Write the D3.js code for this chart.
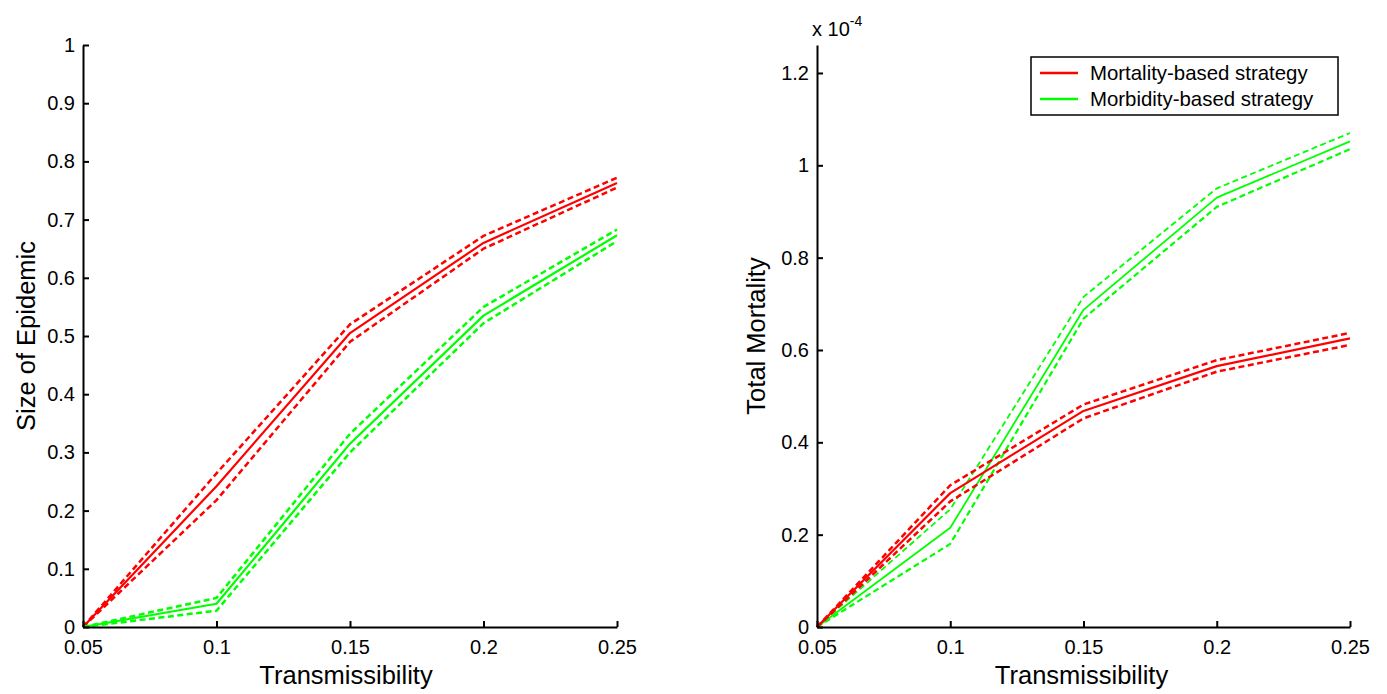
<!DOCTYPE html>
<html><head><meta charset="utf-8">
<script src="https://cdn.jsdelivr.net/npm/d3@7"></script>
<style>body{margin:0;background:#fff;} text{font-family:"Liberation Sans",Arial,sans-serif;fill:#000;}</style>
</head><body><svg id="c" width="1387" height="694"></svg>
<script>
const xVals = [0.05, 0.1, 0.15, 0.2, 0.25];
const xTicks = [0.05, 0.1, 0.15, 0.2, 0.25];
const xTickLabels = ["0.05", "0.1", "0.15", "0.2", "0.25"];
// Left: size of epidemic
const redEpi   = [0, 0.242, 0.505, 0.660, 0.763];
const redEpiUp = [0, 0.264, 0.520, 0.672, 0.772];
const redEpiLo = [0, 0.218, 0.490, 0.650, 0.755];
const greenEpi   = [0, 0.040, 0.315, 0.535, 0.673];
const greenEpiUp = [0, 0.050, 0.332, 0.550, 0.683];
const greenEpiLo = [0, 0.028, 0.300, 0.522, 0.663];
const leftYTicks = [0, 0.1, 0.2, 0.3, 0.4, 0.5, 0.6, 0.7, 0.8, 0.9, 1];
const leftYTickLabels = ["0","0.1","0.2","0.3","0.4","0.5","0.6","0.7","0.8","0.9","1"];
// Right: total mortality (x 10^-4)
const redMort   = [0, 0.290, 0.468, 0.565, 0.625];
const redMortUp = [0, 0.307, 0.482, 0.578, 0.637];
const redMortLo = [0, 0.272, 0.452, 0.553, 0.611];
const greenMort   = [0, 0.215, 0.687, 0.930, 1.052];
const greenMortUp = [0, 0.255, 0.715, 0.950, 1.070];
const greenMortLo = [0, 0.180, 0.668, 0.910, 1.035];
const rightYTicks = [0, 0.2, 0.4, 0.6, 0.8, 1, 1.2];
const rightYTickLabels = ["0","0.2","0.4","0.6","0.8","1","1.2"];
const legendLabels = ["Mortality-based strategy", "Morbidity-based strategy"];
const RED = "#ff0000", GREEN = "#00ff00";

const svg = d3.select("#c");

function panel(opts){
  const g = svg.append("g");
  const x = d3.scaleLinear().domain([0.05, 0.25]).range([opts.x0, opts.x1]);
  const y = d3.scaleLinear().domain([0, opts.ymax]).range([627, 45]);
  const line = d3.line().x((d,i)=>x(xVals[i])).y(d=>y(d));
  opts.series.forEach(s=>{
    g.append("path").attr("d", line(s.vals)).attr("fill","none")
      .attr("stroke", s.color).attr("stroke-width", s.w)
      .attr("stroke-dasharray", s.dash ? "6,3.5" : null)
      .attr("stroke-linejoin","round");
  });
  const xa = d3.axisBottom(x).tickValues(xTicks).tickFormat((d,i)=>xTickLabels[i]).tickSizeInner(-6).tickSizeOuter(0).tickPadding(13);
  const gx = g.append("g").attr("transform","translate(0,627)").call(xa);
  gx.select(".domain").attr("stroke","#000").attr("stroke-width",2);
  gx.selectAll(".tick line").attr("stroke","#000").attr("stroke-width",2);
  gx.selectAll(".tick text").attr("font-size",20).attr("font-family","Liberation Sans, Arial, sans-serif");
  const ya = d3.axisLeft(y).tickValues(opts.yTicks).tickFormat((d,i)=>opts.yLabels[i]).tickSizeInner(-6).tickSizeOuter(0).tickPadding(8);
  const gy = g.append("g").attr("transform",`translate(${opts.x0},0)`).call(ya);
  gy.select(".domain").attr("stroke","#000").attr("stroke-width",2);
  gy.selectAll(".tick line").attr("stroke","#000").attr("stroke-width",2);
  gy.selectAll(".tick text").attr("font-size",20).attr("font-family","Liberation Sans, Arial, sans-serif");
  g.append("text").attr("x",(opts.x0+opts.x1)/2 + opts.xlOff).attr("y",684).attr("text-anchor","middle")
    .attr("font-size",25.5).text("Transmissibility");
  g.append("text").attr("transform",`translate(${opts.ylx},336) rotate(-90)`).attr("text-anchor","middle")
    .attr("font-size",25.5).text(opts.ylabel);
  return {g,x,y};
}

panel({x0:83, x1:617, ymax:1, yTicks:leftYTicks, yLabels:leftYTickLabels, ylx:35, xlOff:-4, ylabel:"Size of Epidemic",
  series:[
    {vals:redEpiUp,color:RED,w:2.5,dash:true},{vals:redEpiLo,color:RED,w:2.5,dash:true},{vals:redEpi,color:RED,w:2.2},
    {vals:greenEpiUp,color:GREEN,w:2.5,dash:true},{vals:greenEpiLo,color:GREEN,w:2.5,dash:true},{vals:greenEpi,color:GREEN,w:2.2}
  ]});

panel({x0:817, x1:1350, ymax:1.2606, yTicks:rightYTicks, yLabels:rightYTickLabels, ylx:765, xlOff:-2, ylabel:"Total Mortality",
  series:[
    {vals:greenMortUp,color:GREEN,w:1.8,dash:true},{vals:greenMortLo,color:GREEN,w:2.2,dash:true},{vals:greenMort,color:GREEN,w:1.8},
    {vals:redMortUp,color:RED,w:2.5,dash:true},{vals:redMortLo,color:RED,w:2.5,dash:true},{vals:redMort,color:RED,w:2.2}
  ]});

const ex = svg.append("text").attr("x",812).attr("y",36).attr("font-size",20);
ex.append("tspan").text("x 10");
ex.append("tspan").attr("dy",-10).attr("font-size",14).text("-4");

const lg = svg.append("g");
lg.append("rect").attr("x",1031).attr("y",57).attr("width",307).attr("height",58)
  .attr("fill","#fff").attr("stroke","#000").attr("stroke-width",1.5);
[RED, GREEN].forEach((c,i)=>{
  const yy = 73 + i*26;
  lg.append("line").attr("x1",1040).attr("x2",1078).attr("y1",yy).attr("y2",yy).attr("stroke",c).attr("stroke-width",2.5);
  lg.append("text").attr("x",1090).attr("y",yy+7).attr("font-size",20.4).text(legendLabels[i]);
});
</script></body></html>
